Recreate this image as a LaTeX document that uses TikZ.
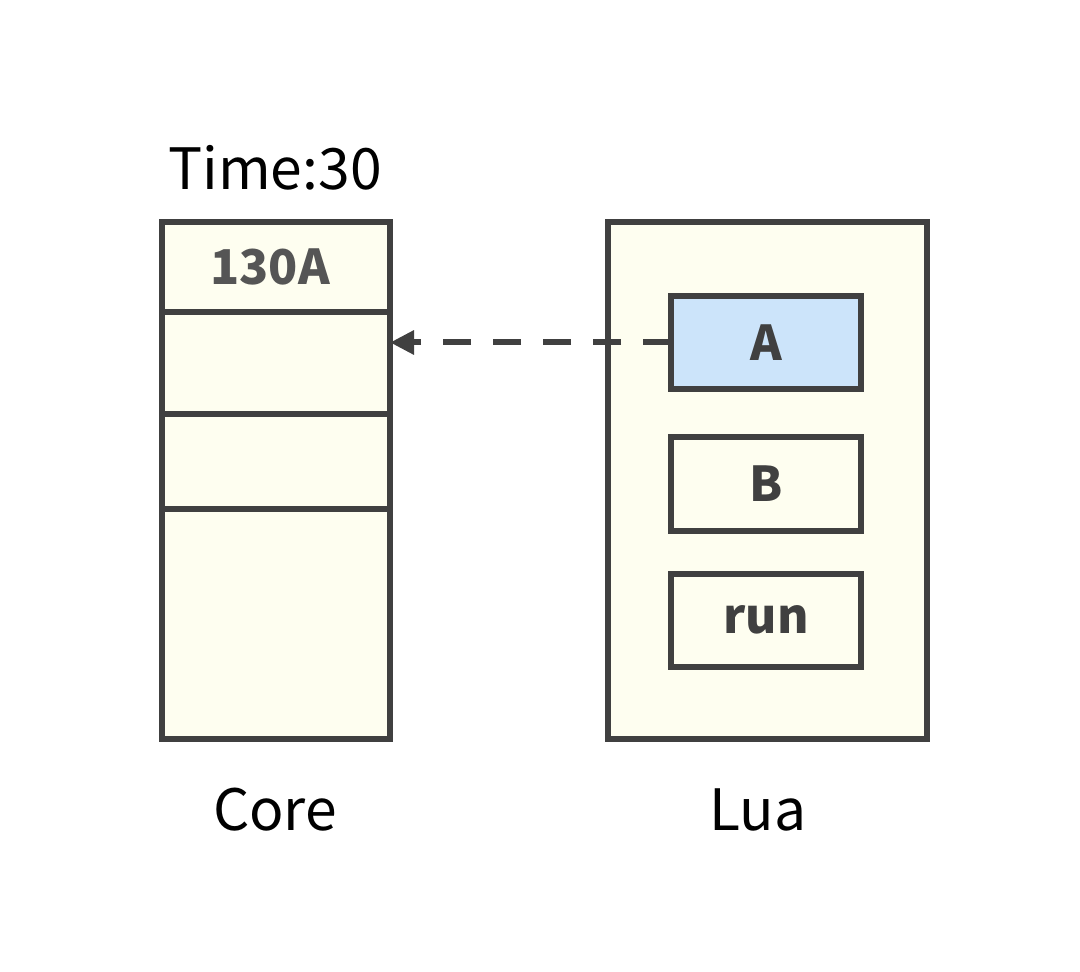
\documentclass[tikz,border=0pt]{standalone}
\usepackage{fontspec}
\setmainfont{Noto Sans CJK SC}
\usetikzlibrary{arrows.meta}
\definecolor{strokegray}{HTML}{404040}
\definecolor{ivory}{HTML}{FEFEF0}
\definecolor{lightblue}{HTML}{CCE4FA}
\definecolor{labelgray}{HTML}{555555}
\tikzset{
  box/.style={draw=strokegray, line width=3pt, fill=ivory, inner sep=0pt, outer sep=0pt, rectangle},
  cell/.style={box, minimum width=114pt},
  item/.style={box, minimum width=95pt, minimum height=46.5pt, font=\fontsize{24}{28}\selectfont\bfseries, text=strokegray},
  caption/.style={font=\fontsize{28.5}{34}\selectfont, text=black, inner sep=0pt},
}
\begin{document}
\begin{tikzpicture}[x=0.5pt,y=-0.5pt]
\useasboundingbox[fill=white] (0,0) rectangle (1080,972);
% Core column
\node[cell, minimum height=45pt, font=\fontsize{24}{28}\selectfont\bfseries, text=labelgray] (c1) at (276,267) {\kern-6pt130A};
\node[cell, minimum height=51pt] (c2) at (276,363) {};
\node[cell, minimum height=47.5pt] (c3) at (276,461.5) {};
\node[cell, minimum height=115pt] (c4) at (276,624) {};
% Lua box
\node[box, minimum width=159.5pt, minimum height=258.5pt] (lua) at (767.5,480.5) {};
\node[item, fill=lightblue] (a) at (766,342.5) {A};
\node[item] (b) at (766,484) {B};
\node[item] (run) at (766,620) {\raisebox{-1.5pt}{run}};
% captions
\node[caption, anchor=base] (time) at (275,190) {Time:30};
\node[caption, anchor=base] (core) at (275,830) {Core};
\node[caption, anchor=base] (luacap) at (758,830) {Lua};
% connector
\draw[strokegray, line width=3pt, dash pattern=on 14pt off 11pt, -{Triangle[length=12pt,width=11.5pt]}] (a.west) -- (a.west -| c2.east);
\end{tikzpicture}
\end{document}
